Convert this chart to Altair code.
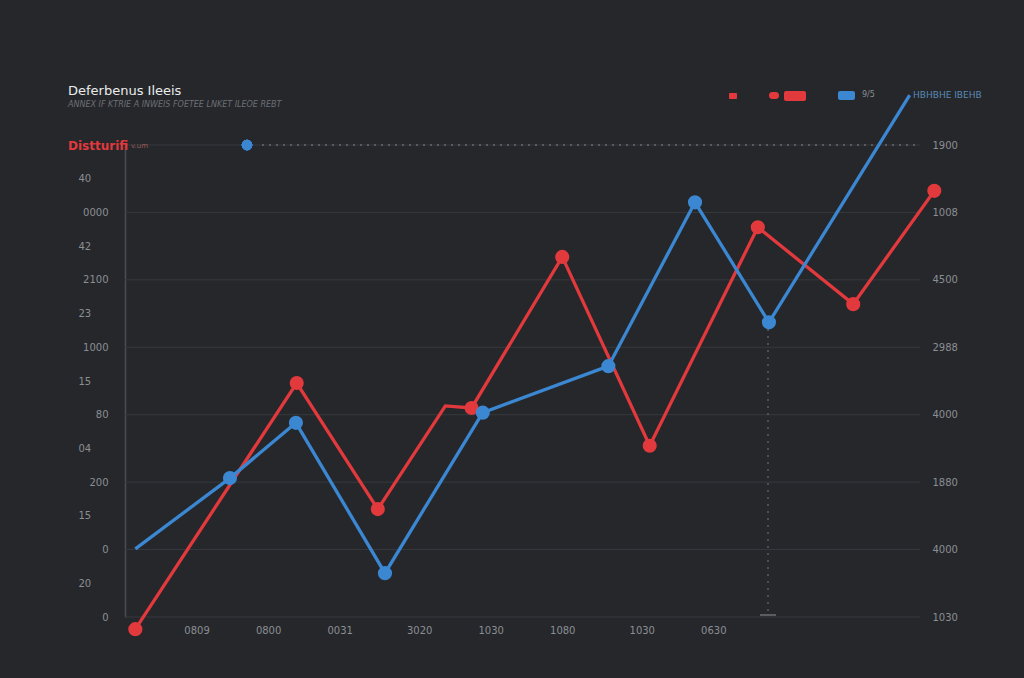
import altair as alt
import pandas as pd

# ---- data ----
red_x = [1.3, 21.6, 31.8, 40.3, 43.6, 55.0, 66.0, 79.6, 91.6, 101.8]
red_y = [-1.8, 34.7, 16.0, 31.3, 31.0, 53.4, 25.4, 57.8, 46.4, 63.2]
red_marker = [True, True, True, False, True, True, True, True, True, True]

blue_x = [1.3, 13.2, 21.5, 32.7, 45.0, 60.8, 71.7, 81.0, 98.7]
blue_y = [10.1, 20.6, 28.8, 6.5, 30.3, 37.2, 61.5, 43.7, 77.4]
blue_marker = [False, True, True, True, True, True, True, True, False]

grid_vals = [0, 10, 20, 30, 40, 50, 60, 70]
left_major_labels = ["0", "0", "200", "80", "1000", "2100", "0000", ""]
left_minor_vals = [5, 15, 25, 35, 45, 55, 65]
left_minor_labels = ["20", "15", "04", "15", "23", "42", "40"]
right_labels = ["1030", "4000", "1880", "4000", "2988", "4500", "1008", "1900"]

xtick_vals = [9, 18, 27, 37, 46, 55, 65, 74]
xtick_labels = ["0809", "0800", "0031", "3020", "1030", "1080", "1030", "0630"]

RED = "#e2393d"
BLUE = "#3b87d1"
BG = "#25272b"
GRID = "#36393e"
LABEL = "#8b8e93"

def lookup(vals, labels):
    items = ",".join("'%s':'%s'" % (v, l) for v, l in zip(vals, labels))
    return "{" + items + "}[datum.value]"

df = pd.DataFrame(
    [{"series": "red", "x": x, "y": y, "m": m, "o": i} for i, (x, y, m) in enumerate(zip(red_x, red_y, red_marker))]
    + [{"series": "blue", "x": x, "y": y, "m": m, "o": i} for i, (x, y, m) in enumerate(zip(blue_x, blue_y, blue_marker))]
)
grid_df = pd.DataFrame({"g": grid_vals})
minor_df = pd.DataFrame({"g": left_minor_vals})

xs = alt.Scale(domain=[0, 100], nice=False, zero=False)
ys = alt.Scale(domain=[0, 70], nice=False, zero=False)
color = alt.Color("series:N", scale=alt.Scale(domain=["red", "blue"], range=[RED, BLUE]), legend=None)

axis_common = dict(grid=False, ticks=False, title=None, labelColor=LABEL, labelFontSize=10,
                   labelFont="DejaVu Sans", labelOverlap=False)

x_axis = alt.Axis(values=xtick_vals, labelExpr=lookup(xtick_vals, xtick_labels),
                  domain=False, labelPadding=8, **axis_common)

# grid rules + right axis
grid = alt.Chart(grid_df).mark_rule(color=GRID, strokeWidth=1).encode(
    y=alt.Y("g:Q", scale=ys, axis=alt.Axis(orient="right", values=grid_vals, domain=False,
                                          labelExpr=lookup(grid_vals, right_labels),
                                          labelAlign="left", labelPadding=12, **axis_common)),
    x=alt.value(0), x2=alt.value(795),
)

# minor left labels (invisible rules carrying the axis)
minor = alt.Chart(minor_df).mark_rule(opacity=0).encode(
    y=alt.Y("g:Q", scale=ys, axis=alt.Axis(orient="left", values=left_minor_vals, domain=False,
                                          labelExpr=lookup(left_minor_vals, left_minor_labels),
                                          labelAlign="left", labelPadding=47, **axis_common)),
    x=alt.value(0), x2=alt.value(1),
)

lines = alt.Chart(df).mark_line(strokeWidth=3.3, clip=False).encode(
    x=alt.X("x:Q", scale=xs, axis=x_axis),
    y=alt.Y("y:Q", scale=ys, axis=alt.Axis(orient="left", values=grid_vals, domain=True,
                                          domainColor="#4a4d52", domainWidth=1.5,
                                          labelExpr=lookup(grid_vals, left_major_labels),
                                          labelAlign="right", labelPadding=17, **axis_common)),
    color=color,
    detail="series:N",
    order="o:Q",
)

points = alt.Chart(df).transform_filter("datum.m").mark_circle(size=200, opacity=1, clip=False).encode(
    x=alt.X("x:Q", scale=xs, axis=x_axis),
    y=alt.Y("y:Q", scale=ys, axis=None),
    color=color,
)

# decorations: dotted reference lines, title, legend
dot_h = alt.Chart(grid_df).mark_rule(color="#5a5d62", strokeDash=[2, 5], strokeWidth=1).encode(
    x=alt.value(137), x2=alt.value(792), y=alt.value(0))
dot_v = alt.Chart(grid_df).mark_rule(color="#4e5156", strokeDash=[2, 5], strokeWidth=1).encode(
    x=alt.value(643), y=alt.value(177), y2=alt.value(470))
tick_v = alt.Chart(grid_df).mark_rule(color="#5a5d62", strokeWidth=1.5).encode(
    x=alt.value(635), x2=alt.value(651), y=alt.value(470))
blue_dot = alt.Chart(grid_df).mark_circle(color=BLUE, size=110, opacity=1).encode(
    x=alt.value(122), y=alt.value(0))

def txt(s, x, y, color, size, weight="normal", style="normal", align="left"):
    return alt.Chart(pd.DataFrame({"t": [s]})).mark_text(
        align=align, baseline="middle", color=color, fontSize=size, fontWeight=weight,
        fontStyle=style, font="DejaVu Sans").encode(text="t:N", x=alt.value(x), y=alt.value(y))

def rect(x, y, w, h, color, r=1):
    return alt.Chart(pd.DataFrame({"t": [0]})).mark_rect(color=color, cornerRadius=r).encode(
        x=alt.value(x), x2=alt.value(x + w), y=alt.value(y), y2=alt.value(y + h))

ox, oy = 125, 145
title = txt("Deferbenus Ileeis", 68 - ox, 91 - oy, "#ececec", 13)
subtitle = txt("ANNEX IF KTRIE A INWEIS FOETEE LNKET ILEOE REBT", 68 - ox, 105 - oy, "#6d7075", 8, style="italic")
ylab = txt("Distturifi", 68 - ox, 146 - oy, RED, 12, weight="bold")
ysub = txt("v.um", 131 - ox, 146 - oy, "#9a5b5b", 7)
legend = [
    rect(729 - ox, 93 - oy, 8, 6, RED),
    rect(769 - ox, 92 - oy, 10, 7, RED, 3),
    rect(784 - ox, 91 - oy, 22, 10, RED, 2),
    rect(838 - ox, 91 - oy, 17, 9, BLUE, 2),
    txt("9/5", 862 - ox, 95 - oy, LABEL, 8),
    txt("HBHBHE IBEHB", 913 - ox, 95 - oy, "#5b89b6", 9),
]

chart = alt.layer(
    grid, minor, dot_h, dot_v, tick_v, lines, points, blue_dot, title, subtitle, ylab, ysub, *legend
).resolve_axis(y="independent").properties(
    width=795, height=472,
    autosize=alt.AutoSizeParams(type="none"),
    padding={"left": 125, "top": 145, "right": 104, "bottom": 61},
    background=BG,
).configure_view(stroke=None)

chart.save("out.html", embed_options={"renderer": "svg", "actions": False})
